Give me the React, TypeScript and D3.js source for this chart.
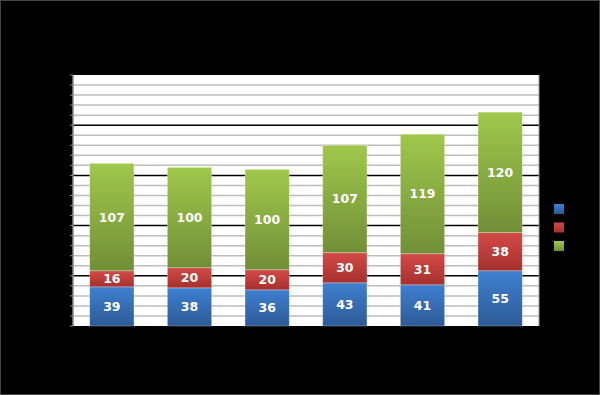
import React from "react";
import * as d3 from "d3";

const categories = ["1", "2", "3", "4", "5", "6"];
const seriesNames = ["S1", "S2", "S3"];
const blueValues = [39, 38, 36, 43, 41, 55];
const redValues = [16, 20, 20, 30, 31, 38];
const greenValues = [107, 100, 100, 107, 119, 120];
const yTicks = [0, 50, 100, 150, 200, 250];
const minorTicks = d3.range(0, 251, 10);

const colors = [
  { top: "#3e80d0", bottom: "#2d5a97", id: "gBlue" },
  { top: "#d44a47", bottom: "#a4302d", id: "gRed" },
  { top: "#a0c84b", bottom: "#718f37", id: "gGreen" },
];

export default function App() {
  const W = 600, H = 395;
  const left = 73, right = 539, top = 75, bottom = 326;
  const x = d3.scaleBand().domain(categories).range([left, right]).paddingInner(0.43).paddingOuter(0.215);
  const y = d3.scaleLinear().domain([0, 250]).range([bottom, top]);
  const rows = categories.map((c, i) => ({ cat: c, s0: blueValues[i], s1: redValues[i], s2: greenValues[i] }));
  const stack = d3.stack<any>().keys(["s0", "s1", "s2"])(rows);
  return (
    <svg width={W} height={H} style={{ position: "absolute", left: 0, top: 0, display: "block" }}>
      <defs>
        {colors.map((c) => (
          <linearGradient key={c.id} id={c.id} x1="0" y1="0" x2="0" y2="1">
            <stop offset="0%" stopColor={c.top} />
            <stop offset="100%" stopColor={c.bottom} />
          </linearGradient>
        ))}
      </defs>
      <rect x={0.5} y={0.5} width={W - 1} height={H - 1} fill="#000" stroke="#444" />
      <rect x={left} y={top} width={right - left} height={bottom - top} fill="#fff" />
      {minorTicks.filter((t) => t % 50 !== 0).map((t) => (
        <line key={"m" + t} x1={left} x2={right} y1={y(t)} y2={y(t)} stroke="#bdbdbd" strokeWidth={1.5} />
      ))}
      {yTicks.filter((t) => t > 0 && t < 250).map((t) => (
        <line key={"M" + t} x1={left} x2={right} y1={y(t)} y2={y(t)} stroke="#000" strokeWidth={1.5} />
      ))}
      <line x1={left} x2={left} y1={top} y2={bottom} stroke="#888" strokeWidth={1.5} />
      <line x1={right} x2={right} y1={top} y2={bottom} stroke="#999" strokeWidth={1} />
      {minorTicks.map((t) => (
        <line key={"t" + t} x1={left - 3} x2={left} y1={y(t)} y2={y(t)} stroke="#888" strokeWidth={1} />
      ))}
      {yTicks.map((t) => (
        <text key={"yl" + t} x={left - 6} y={y(t)} dy="0.35em" textAnchor="end" fontFamily="DejaVu Sans" fontSize={11} fill="#000">{t}</text>
      ))}
      {categories.map((c) => (
        <text key={"xl" + c} x={(x(c) as number) + x.bandwidth() / 2} y={bottom + 16} textAnchor="middle" fontFamily="DejaVu Sans" fontSize={11} fill="#000">{c}</text>
      ))}
      {stack.map((layer, li) => (
        <g key={li}>
          {layer.map((d: any, i: number) => {
            const bx = x(categories[i]) as number;
            const y0 = y(d[0]), y1 = y(d[1]);
            return (
              <g key={i}>
                <rect x={bx} y={y1} width={x.bandwidth()} height={y0 - y1} fill={`url(#${colors[li].id})`} stroke="rgba(255,255,255,0.35)" strokeWidth={0.8} />
                <text x={bx + x.bandwidth() / 2} y={(y0 + y1) / 2} dy="0.36em" textAnchor="middle" fontFamily="DejaVu Sans" fontWeight="bold" fontSize={12.5} fill="#fff">{d[1] - d[0]}</text>
              </g>
            );
          })}
        </g>
      ))}
      {seriesNames.map((s, i) => (
        <g key={s}>
          <rect x={554} y={204 + i * 18.5} width={10} height={10} fill={`url(#${colors[i].id})`} />
          <text x={569} y={209 + i * 18.5} dy="0.35em" fontFamily="DejaVu Sans" fontSize={10} fill="#000">{s}</text>
        </g>
      ))}
    </svg>
  );
}
